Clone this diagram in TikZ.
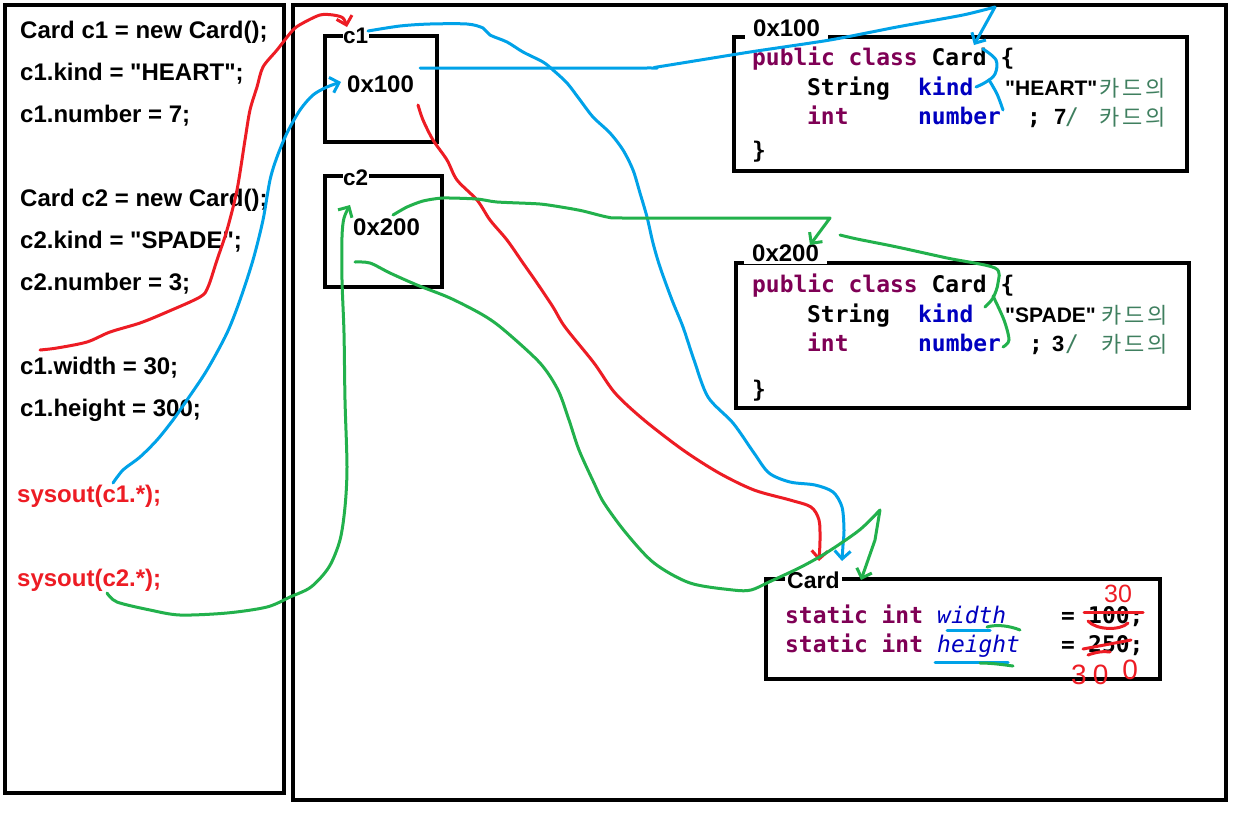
\documentclass[tikz,border=0pt]{standalone}
\usepackage{fontspec}
\setmainfont{Liberation Sans}[Ligatures=TeXOff]
\newfontfamily\codefont{DejaVu Sans Mono}
\newfontfamily\krfont{Noto Sans CJK KR}
\usetikzlibrary{arrows.meta}
\definecolor{pred}{HTML}{ED1C24}
\definecolor{pblue}{HTML}{00A2E8}
\definecolor{pgreen}{HTML}{22B14C}
\definecolor{kw}{HTML}{7F0055}
\definecolor{fld}{HTML}{0000C0}
\definecolor{cmt}{HTML}{3F7F5F}
\newcommand\dq{\char34\relax}
\begin{document}
\begin{tikzpicture}[x=1pt,y=-1pt,
  frame/.style={draw=black,line width=4.5pt,inner sep=0pt,outer sep=0pt},
  ltxt/.style={anchor=base west,inner sep=0pt,font=\fontsize{24}{28}\selectfont\bfseries},
  lab/.style={anchor=base west,fill=white,inner ysep=3pt,inner xsep=1pt,font=\fontsize{22.5}{27}\selectfont\bfseries},
  mono/.style={anchor=base west,inner sep=0pt,font=\codefont\fontsize{22.9}{27}\selectfont\bfseries},
  kwd/.style={mono,text=kw},
  fldt/.style={mono,text=fld},
  fldi/.style={mono,text=fld,font=\codefont\fontsize{22.9}{27}\selectfont\itshape},
  sansb/.style={anchor=base west,inner sep=0pt,font=\fontsize{21}{25}\selectfont\bfseries},
  kr/.style={anchor=base west,inner sep=0pt,text=cmt,font=\krfont\fontsize{22}{26}\selectfont},
  cmtm/.style={mono,text=cmt,font=\codefont\fontsize{22.9}{27}\selectfont},
  hand/.style={anchor=base west,inner sep=0pt,text=pred,font=\fontsize{27}{30}\selectfont},
  pen/.style={line width=3pt,line cap=round,line join=round},
  tip/.style={-{Straight Barb[length=8pt,width=16pt]}}
]
\useasboundingbox (0,0) rectangle (1241,820);
\fill[white] (0,0) rectangle (1241,820);

% frames
\node[frame,minimum width=279pt,minimum height=788pt] (leftbox) at (144.5,399) {};
\node[frame,minimum width=933pt,minimum height=795pt] (bigbox) at (759.5,402.5) {};
\node[frame,minimum width=112pt,minimum height=106pt] (c1box) at (381,89) {};
\node[frame,minimum width=117pt,minimum height=111pt] (c2box) at (383.5,231.5) {};
\node[frame,minimum width=453pt,minimum height=134pt] (obj1) at (960.5,104) {};
\node[frame,minimum width=453pt,minimum height=145pt] (obj2) at (962.5,335.5) {};
\node[frame,minimum width=394pt,minimum height=100pt] (stat) at (963,629) {};

% labels on frames
\node[lab,inner xsep=0.5pt] (c1lab) at (342.5,43) {c1};
\node[lab,inner xsep=0.5pt] (c2lab) at (342.5,185) {c2\hspace{6pt}};
\node[lab,inner xsep=8pt,font=\fontsize{24}{28}\selectfont\bfseries] (o1lab) at (745,36) {0x100};
\node[lab,inner xsep=8pt,font=\fontsize{24}{28}\selectfont\bfseries] (o2lab) at (744,261) {0x200};
\node[lab,inner xsep=2pt,font=\fontsize{23}{28}\selectfont\bfseries] (stlab) at (785,588) {Card\hspace{14pt}};

% addresses in reference boxes
\node[ltxt] (addr1) at (347,92) {0x100};
\node[ltxt] (addr2) at (353,235) {0x200};

% left code
\node[ltxt] (l1) at (20,38.5) {Card c1 = new Card();};
\node[ltxt] (l2) at (20,80.5) {c1.kind = \dq HEART\dq;};
\node[ltxt] (l3) at (20,122.5) {c1.number = 7;};
\node[ltxt] (l4) at (20,206.5) {Card c2 = new Card();};
\node[ltxt] (l5) at (20,248.5) {c2.kind = \dq SPADE\dq;};
\node[ltxt] (l6) at (20,290.5) {c2.number = 3;};
\node[ltxt] (l7) at (20,374.5) {c1.width = 30;};
\node[ltxt] (l8) at (20,416.5) {c1.height = 300;};
\node[ltxt,text=pred] (s1) at (17,502) {sysout(c1.*);};
\node[ltxt,text=pred] (s2) at (17,586) {sysout(c2.*);};

% object 1
\node[kwd] (p1) at (752,65) {public class};
\node[mono] (p1c) at (931.4,65) {Card \{};
\node[mono] (p1s) at (807,95) {String};
\node[fldt] (p1k) at (918,95) {kind};
\node[sansb] (p1v) at (1005,95) {\dq HEART\dq};
\node[kr] (p1kr) at (1099,96) {카\hspace{3pt}드\hspace{3pt}의};
\node[kwd] (p1i) at (807,124) {int};
\node[fldt] (p1n) at (918,124) {number};
\node[mono] (p1semi) at (1027,124) {;};
\node[sansb,font=\fontsize{22}{25}\selectfont\bfseries] (p1num) at (1054,124) {7};
\node[cmtm] (p1sl) at (1065,124) {/};
\node[kr] (p1kr2) at (1099,125) {카\hspace{3pt}드\hspace{3pt}의};
\node[mono] (p1e) at (752,158) {\}};

% object 2
\node[kwd] (p2) at (752,292) {public class};
\node[mono] (p2c) at (931.4,292) {Card \{};
\node[mono] (p2s) at (807,322) {String};
\node[fldt] (p2k) at (918,322) {kind};
\node[sansb] (p2v) at (1005,322) {\dq SPADE\dq};
\node[kr] (p2kr) at (1101,323) {카\hspace{3pt}드\hspace{3pt}의};
\node[kwd] (p2i) at (807,351) {int};
\node[fldt] (p2n) at (918,351) {number};
\node[mono] (p2semi) at (1029,351) {;};
\node[sansb,font=\fontsize{22}{25}\selectfont\bfseries] (p2num) at (1052,351) {3};
\node[cmtm] (p2sl) at (1065,351) {/};
\node[kr] (p2kr2) at (1101,352) {카\hspace{3pt}드\hspace{3pt}의};
\node[mono] (p2e) at (752,397) {\}};

% static area
\node[kwd] (st1) at (785,623) {static int};
\node[fldi] (st1w) at (937,623) {width};
\node[mono] (st1e) at (1061,623) {=};
\node[mono] (st1v) at (1088,623) {100;};
\node[kwd] (st2) at (785,652) {static int};
\node[fldi] (st2h) at (937,652) {height};
\node[mono] (st2e) at (1061,652) {=};
\node[mono] (st2v) at (1088,652) {250;};

% red corrections
\draw[pen,pred] (1084,612) -- (1143,612);
\draw[pen,pred] (1088,621) .. controls (1096,630) and (1120,631) .. (1128,623);
\draw[pen,pred] (1083,649) -- (1131,640);
\draw[pen,pred] (1088,655) .. controls (1096,652) and (1104,651) .. (1110,652);
\node[hand,font=\fontsize{25}{30}\selectfont] (h30) at (1104,602) {30};
\node[hand,font=\fontsize{28}{30}\selectfont] (h300) at (1071,684) {3\hspace{6pt}0\hspace{14pt}\raisebox{5pt}{0}};

% underlines
\draw[pen,pblue] (947,630) -- (990,630);
\draw[pen,pblue] (935,662) -- (1008,662);
\draw[pen,pgreen] (987,627) .. controls (997,624) and (1010,626) .. (1020,630);
\draw[pen,pgreen] (980,663) .. controls (993,663) and (1005,665) .. (1013,666);

% named ends
\coordinate (r1a) at (40,350);
\coordinate (r1b) at (347,27);
\coordinate (r2a) at (418,105);
\coordinate (r2b) at (819,561);
\coordinate (b1a) at (113,483);
\coordinate (b1b) at (341,82);
\coordinate (b2a) at (420,68);
\coordinate (b2b) at (974,45);
\coordinate (b3a) at (368,31);
\coordinate (b3b) at (842,561);
\coordinate (g1a) at (107,593);
\coordinate (g1b) at (350,205);
\coordinate (g2a) at (393,215);
\coordinate (g2b) at (810,245);
\coordinate (g3a) at (355,262);
\coordinate (g3b) at (861,580);

% red connectors
\draw[pen,pred,tip] plot[smooth,tension=0.5] coordinates {(r1a) (57,348) (87,342) (110,332) (140,323) (167,312) (200,297) (208,287) (217,260) (227,230) (237,190) (245,140) (250,110) (257,87) (263,67) (277,50) (293,30) (303,23) (320,15) (333,15) (343,18) (r1b)};
\draw[pen,pred,tip] plot[smooth,tension=0.5] coordinates {(r2a) (423,120) (433,140) (447,160) (457,180) (477,200) (490,220) (507,240) (523,263) (537,283) (553,307) (565,327) (594,363) (615,393) (644,420) (683,450) (719,473) (754,490) (790,500) (811,507) (819,520) (820,540) (r2b)};

% blue connectors
\draw[pen,pblue,tip] plot[smooth,tension=0.5] coordinates {(b1a) (123,470) (140,457) (157,440) (173,420) (187,400) (207,370) (227,333) (240,300) (253,260) (263,220) (270,180) (277,157) (287,133) (300,110) (313,95) (327,87) (b1b)};
\draw[pen,pblue,tip] plot[smooth,tension=0.4] coordinates {(b2a) (645,68) (657,67) (750,52) (830,40) (897,27) (963,15) (995,7)} -- (b2b);
\draw[pen,pblue] plot[smooth,tension=0.6] coordinates {(983,49) (996,60) (995,74) (986,82) (976,87)};
\draw[pen,pblue] plot[smooth,tension=0.6] coordinates {(989,80) (997,94) (1003,110)};
\draw[pen,pblue,tip] plot[smooth,tension=0.5] coordinates {(b3a) (400,26) (430,24) (467,24) (483,28) (490,35) (507,42) (523,52) (543,62) (553,70) (567,83) (580,100) (593,117) (610,133) (623,150) (633,170) (640,193) (647,217) (653,243) (660,267) (672,300) (683,327) (694,360) (708,397) (733,423) (754,453) (769,473) (790,482) (815,485) (833,492) (842,507) (844,530) (843,545) (b3b)};

% green connectors
\draw[pen,pgreen,tip] plot[smooth,tension=0.5] coordinates {(g1a) (117,602) (150,610) (180,615) (227,613) (267,607) (290,597) (311,587) (329,567) (340,540) (345,507) (347,467) (345,400) (344,333) (342,280) (342,237) (344,218) (g1b)};
\draw[pen,pgreen,tip] plot[smooth,tension=0.4] coordinates {(g2a) (407,207) (423,201) (443,198) (477,199) (497,202) (540,204) (567,208) (583,211) (607,217) (623,218) (750,218) (830,218)} -- (g2b);
\draw[pen,pgreen] plot[smooth,tension=0.5] coordinates {(840,235) (857,239) (897,247) (947,258) (995,268) (998,283) (993,298) (985,307)};
\draw[pen,pgreen] plot[smooth,tension=0.5] coordinates {(993,296) (1004,320) (1009,340) (1003,347)};
\draw[pen,pgreen,tip] plot[smooth,tension=0.5] coordinates {(g3a) (370,263) (390,273) (417,285) (450,298) (483,315) (504,330) (540,363) (558,390) (569,420) (579,450) (594,483) (604,503) (626,533) (654,563) (690,583) (733,590) (751,590) (769,582) (801,567) (826,553) (850,537) (863,527) (880,510)} -- (875,540) -- (g3b);
\end{tikzpicture}
\end{document}
